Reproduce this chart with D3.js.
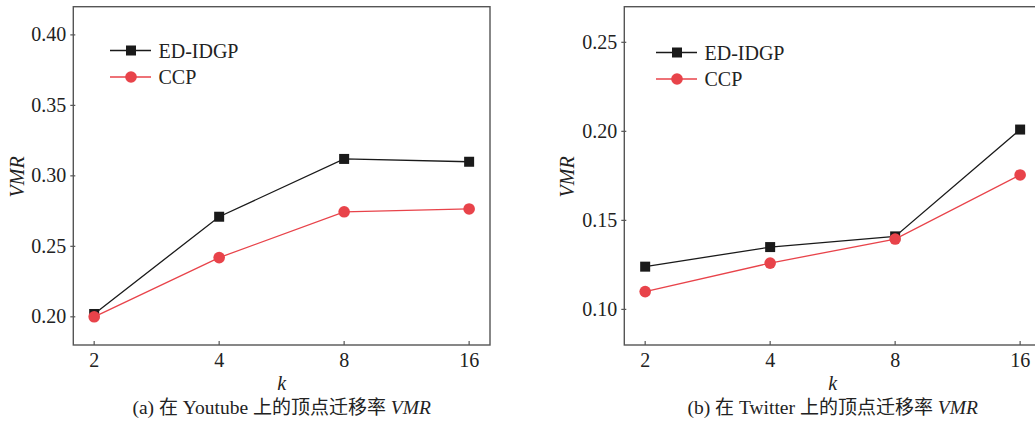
<!DOCTYPE html>
<html>
<head>
<meta charset="utf-8">
<script src="https://cdn.jsdelivr.net/npm/d3@7"></script>
<style>
  body { margin: 0; background: #fff; }
  .cjk { font-family: "Noto Sans CJK SC", sans-serif; }
</style>
</head>
<body>
<svg id="chart" width="1035" height="423" font-family="'Times New Roman', 'Liberation Serif', Times, 'DejaVu Serif', serif" fill="#222"></svg>
<script>
const kValues = [2, 4, 8, 16];
const seriesNames = ["ED-IDGP", "CCP"];

// (a) Youtube
const youtubeEdIdgp = [0.202, 0.271, 0.312, 0.310];
const youtubeCcp = [0.200, 0.242, 0.2745, 0.2765];
const youtubeTicks = [0.20, 0.25, 0.30, 0.35, 0.40];

// (b) Twitter
const twitterEdIdgp = [0.124, 0.135, 0.141, 0.201];
const twitterCcp = [0.110, 0.126, 0.1395, 0.1755];
const twitterTicks = [0.10, 0.15, 0.20, 0.25];

const colors = { "ED-IDGP": "#1a1a1a", "CCP": "#e8434a" };
const svg = d3.select("#chart");

const drawPanel = (props) => {
  const { left, right, top, bottom, domain, ticks, series, legendX, legendY, caption, labelX } = props;

  const x = d3.scalePoint().domain(kValues).range([left, right]).padding(0.167);
  const y = d3.scaleLinear().domain(domain).range([bottom, top]);

  const g = svg.append("g");

  // frame
  g.append("rect")
    .attr("x", left).attr("y", top)
    .attr("width", right - left).attr("height", bottom - top)
    .attr("fill", "none").attr("stroke", "#555").attr("stroke-width", 1.4);

  // y ticks
  ticks.forEach((t) => {
    g.append("line")
      .attr("x1", left - 3).attr("x2", left + 2)
      .attr("y1", y(t)).attr("y2", y(t))
      .attr("stroke", "#555").attr("stroke-width", 1.2);
    g.append("text")
      .attr("x", left - 7).attr("y", y(t)).attr("dy", "0.33em")
      .attr("text-anchor", "end").attr("font-size", 20)
      .text(d3.format(".2f")(t));
  });

  // x ticks
  kValues.forEach((k) => {
    g.append("line")
      .attr("x1", x(k)).attr("x2", x(k))
      .attr("y1", bottom).attr("y2", bottom - 4)
      .attr("stroke", "#555").attr("stroke-width", 1.2);
    g.append("text")
      .attr("x", x(k)).attr("y", bottom + 22)
      .attr("text-anchor", "middle").attr("font-size", 20)
      .text(k);
  });

  // series
  const line = d3.line().x((d) => x(d.k)).y((d) => y(d.v));
  series.forEach((s) => {
    const pts = kValues.map((k, i) => ({ k, v: s.values[i] }));
    g.append("path")
      .attr("d", line(pts))
      .attr("fill", "none").attr("stroke", colors[s.name]).attr("stroke-width", 1.3);
    pts.forEach((p) => {
      if (s.name === "ED-IDGP") {
        g.append("rect")
          .attr("x", x(p.k) - 5).attr("y", y(p.v) - 5)
          .attr("width", 10).attr("height", 10)
          .attr("fill", colors[s.name]);
      } else {
        g.append("circle")
          .attr("cx", x(p.k)).attr("cy", y(p.v)).attr("r", 5.8)
          .attr("fill", colors[s.name]);
      }
    });
  });

  // legend
  seriesNames.forEach((name, i) => {
    const ly = legendY + i * 26.5;
    g.append("line")
      .attr("x1", legendX).attr("x2", legendX + 41)
      .attr("y1", ly).attr("y2", ly)
      .attr("stroke", colors[name]).attr("stroke-width", 1.3);
    if (name === "ED-IDGP") {
      g.append("rect")
        .attr("x", legendX + 21 - 5).attr("y", ly - 5)
        .attr("width", 10).attr("height", 10)
        .attr("fill", colors[name]);
    } else {
      g.append("circle")
        .attr("cx", legendX + 21).attr("cy", ly).attr("r", 5.8)
        .attr("fill", colors[name]);
    }
    g.append("text")
      .attr("x", legendX + 48.5).attr("y", ly).attr("dy", "0.35em")
      .attr("font-size", 20)
      .text(name);
  });

  // axis labels
  g.append("text")
    .attr("transform", `translate(${labelX},${(top + bottom) / 2 + 1}) rotate(-90)`)
    .attr("text-anchor", "middle").attr("dy", "0.35em")
    .attr("font-size", 20).attr("font-style", "italic")
    .text("VMR");

  const cx = (x(kValues[0]) + x(kValues[3])) / 2;
  g.append("text")
    .attr("x", cx).attr("y", 390)
    .attr("text-anchor", "middle").attr("font-size", 20).attr("font-style", "italic")
    .text("k");

  const cap = g.append("text")
    .attr("x", cx).attr("y", 414)
    .attr("text-anchor", "middle").attr("font-size", 19.5);
  cap.append("tspan").text(caption.pre + " ");
  cap.append("tspan").attr("class", "cjk").attr("font-size", 19).text("在");
  cap.append("tspan").text(" " + caption.name + " ");
  cap.append("tspan").attr("class", "cjk").attr("font-size", 19).text("上的顶点迁移率");
  cap.append("tspan").attr("font-style", "italic").text(" VMR");
};

drawPanel({
  left: 73.3, right: 490, top: 6.7, bottom: 345,
  domain: [0.18, 0.42], ticks: youtubeTicks,
  series: [
    { name: "ED-IDGP", values: youtubeEdIdgp },
    { name: "CCP", values: youtubeCcp },
  ],
  legendX: 110, legendY: 50.5, labelX: 17,
  caption: { pre: "(a)", name: "Youtube" },
});

drawPanel({
  left: 624.3, right: 1041, top: 6.7, bottom: 345,
  domain: [0.08, 0.27], ticks: twitterTicks,
  series: [
    { name: "ED-IDGP", values: twitterEdIdgp },
    { name: "CCP", values: twitterCcp },
  ],
  legendX: 656, legendY: 52.5, labelX: 567,
  caption: { pre: "(b)", name: "Twitter" },
});
</script>
</body>
</html>
